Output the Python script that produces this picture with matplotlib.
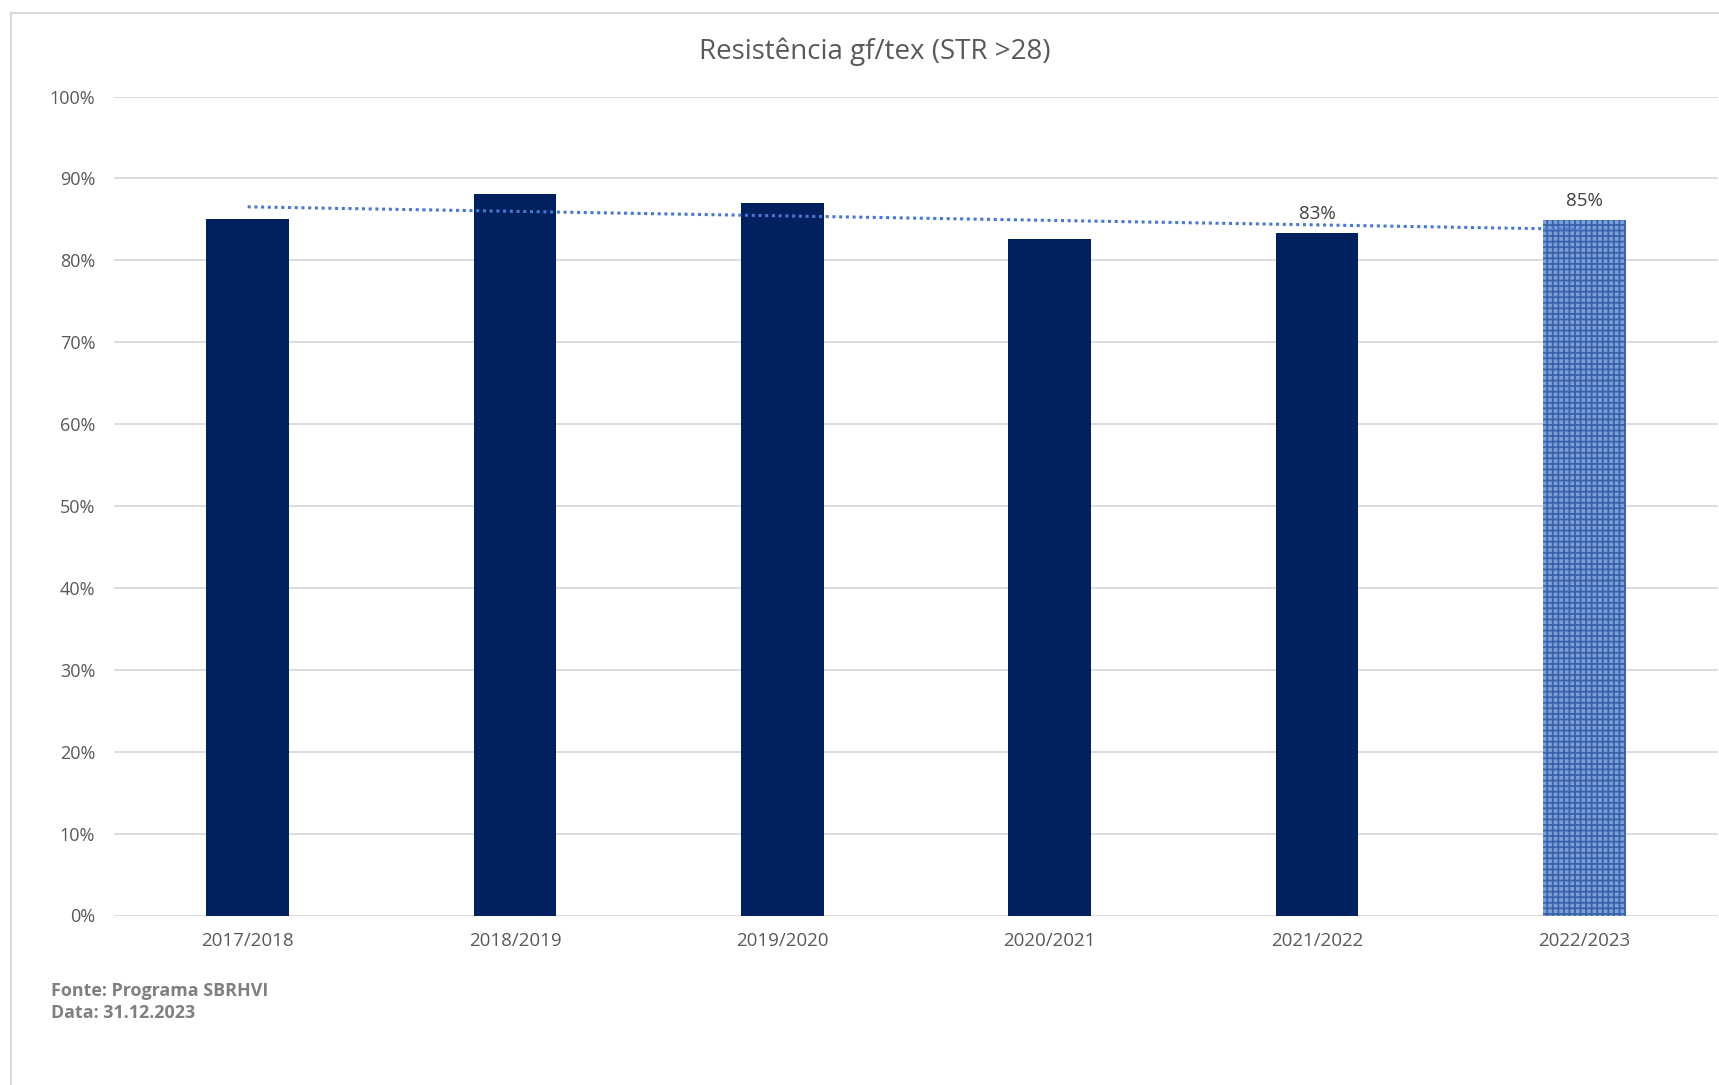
import matplotlib
matplotlib.use("Agg")
import matplotlib.pyplot as plt
import numpy as np

plt.rcParams['font.family'] = ['Open Sans', 'DejaVu Sans']
plt.rcParams['hatch.linewidth'] = 1.3

categories = ["2017/2018", "2018/2019", "2019/2020", "2020/2021", "2021/2022", "2022/2023"]
values = [85.0, 88.1, 87.0, 82.6, 83.3, 84.9]
labels = ["", "", "", "", "83%", "85%"]
yticks = [0, 10, 20, 30, 40, 50, 60, 70, 80, 90, 100]
title = "Resistência gf/tex (STR >28)"
footer = "Fonte: Programa SBRHVI\nData: 31.12.2023"

W, H = 1719, 1085
fig = plt.figure(figsize=(W / 100, H / 100), dpi=100)
fig.patch.set_facecolor("white")

# chart border (left and top visible)
fig.add_artist(plt.Line2D([11 / W, 11 / W], [0, 1 - 13 / H], transform=fig.transFigure,
                          color="#d9d9d9", lw=1.5))
fig.add_artist(plt.Line2D([11 / W, 1], [1 - 13 / H, 1 - 13 / H], transform=fig.transFigure,
                          color="#d9d9d9", lw=1.5))

left, right = 114 / W, 1718 / W
bottom, top = 1 - 915.5 / H, 1 - 96.5 / H
ax = fig.add_axes([left, bottom, right - left, top - bottom])

x = np.arange(len(categories))
colors = ["#002060"] * 5 + ["#7b9fd9"]
bars = ax.bar(x, values, width=0.31, color=colors, zorder=2, linewidth=0)
last = bars[-1]
last.set_hatch("+++")
last.set_edgecolor("#3a62aa")
last.set_linewidth(0)

# linear trendline
coef = np.polyfit(x, values, 1)
ax.plot(x, np.polyval(coef, x), linestyle=(0, (1, 1.2)), color="#4a78cc", lw=2.2, zorder=3)

for xi, v, lab in zip(x, values, labels):
    if lab:
        ax.text(xi, v + 1.3, lab, ha="center", va="bottom", fontsize=13.5, color="#404040")

ax.set_xlim(-0.5, len(categories) - 0.5)
ax.set_ylim(0, 100)
ax.set_yticks(yticks)
ax.set_yticklabels([f"{t}%" for t in yticks])
ax.set_xticks(x)
ax.set_xticklabels(categories)
ax.tick_params(axis="both", length=0, labelcolor="#595959")
ax.tick_params(axis="x", labelsize=13.5, pad=12)
ax.tick_params(axis="y", labelsize=13, pad=13.5)
ax.grid(axis="y", color="#d9d9d9", lw=1.3, zorder=0)
ax.set_axisbelow(True)
for s in ax.spines.values():
    s.set_visible(False)
ax.patch.set_alpha(0)

fig.text(875 / W, 1 - 52 / H, title, ha="center", va="center", fontsize=20, color="#595959")
fig.text(51 / W, 1 - 1002 / H, footer, ha="left", va="center", fontsize=12.9,
         fontweight="bold", color="#7f7f7f", linespacing=1.25)

fig.savefig("out.png", dpi=100)
